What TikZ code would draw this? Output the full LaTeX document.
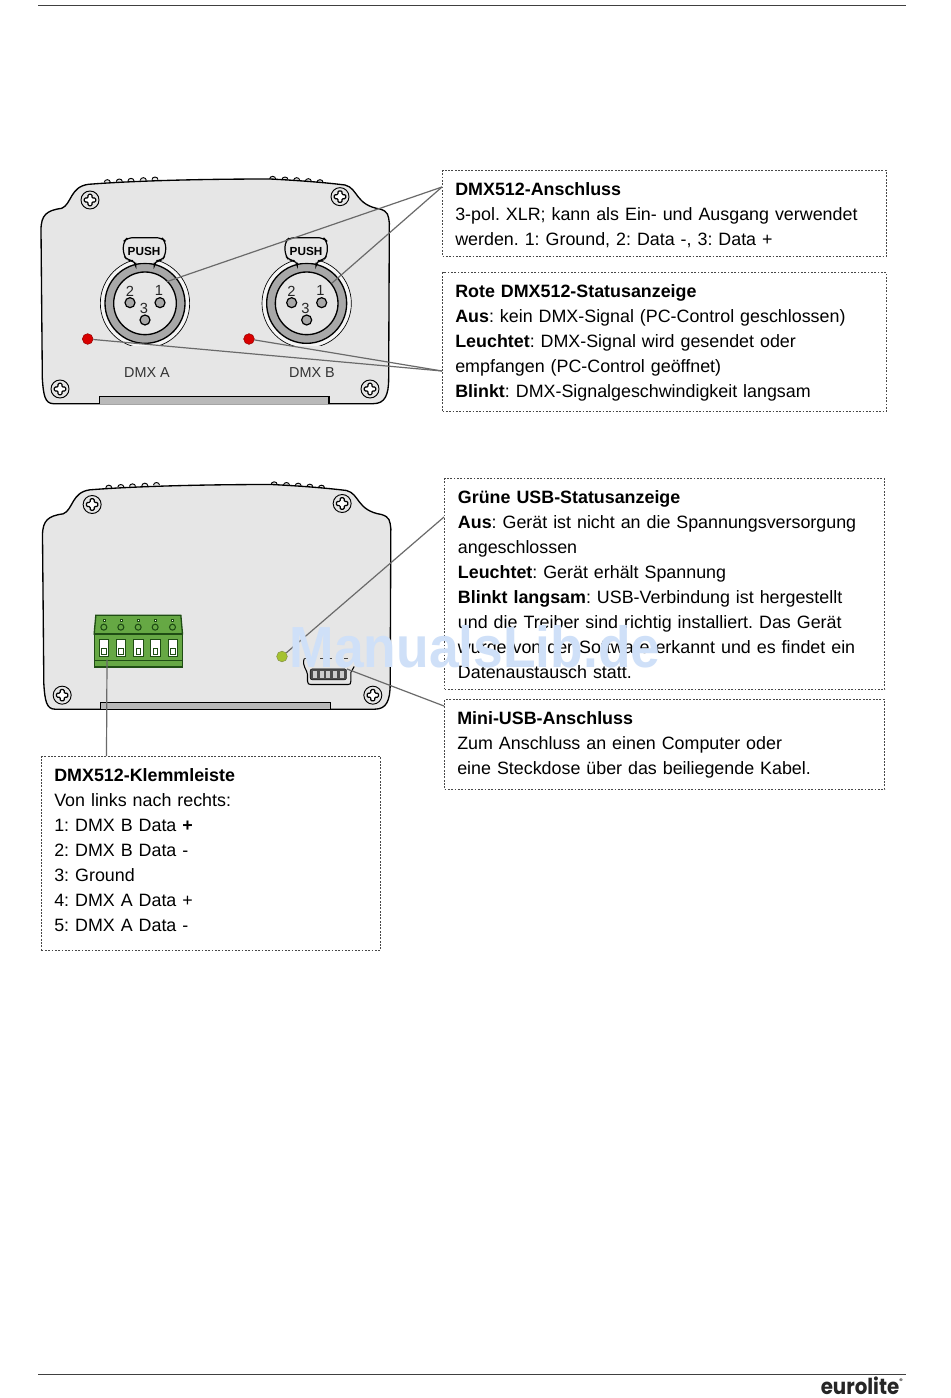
\documentclass[tikz,border=0pt]{standalone}
\usepackage{fontspec}
\setmainfont{Liberation Sans}
\newfontfamily\brandfont{Poppins}
\usepackage{xcolor}
\usetikzlibrary{positioning, calc}
\definecolor{casegray}{HTML}{E6E6E6}
\definecolor{ringgray}{HTML}{A8A8A8}
\definecolor{leadgray}{HTML}{6A6A6A}
\definecolor{termgreen}{HTML}{66A844}
\definecolor{termdark}{HTML}{1F4D14}
\definecolor{markblue}{HTML}{CFE0F8}

\tikzset{
    infobox/.style={draw=black!72, line width=0.95pt, dash pattern=on 1.3pt off 1.2pt, anchor=north west, inner xsep=9.5pt, inner ysep=0pt,
        align=left, font=\fontsize{13.4pt}{18.75pt}\selectfont\frenchspacing, text height=19pt, text depth=#1},
    leader/.style={draw=leadgray, line width=0.9pt},
    caselabel/.style={font=\fontsize{10.8pt}{12pt}\selectfont, text=black!80, inner sep=0pt},
    pinlabel/.style={font=\fontsize{11pt}{12pt}\selectfont, text=black!85, inner sep=0pt},
    pushlabel/.style={font=\fontsize{8.8pt}{10pt}\selectfont\bfseries, inner sep=0pt},
    ledmark/.style={circle, fill=#1, draw=#1!70!black, line width=0.4pt, minimum size=8pt, inner sep=0pt},
    rule/.style={draw=black!75, line width=0.9pt},
}

% housing outline, drawn in units of a third of a pixel
\newcommand{\housing}{%
    \foreach \bx/\by in {232/52, 268/50, 303/48, 340/46, 375/44, 728/42, 765/44, 800/46, 835/49, 870/52}
        \draw[line width=0.7pt, fill=casegray] (\bx-9,\by) arc (180:360:9 and 8);
    \draw[fill=casegray, line width=1pt]
        (33,195) .. controls (33,150) and (50,136) .. (95,130)
        .. controls (125,118) and (120,65) .. (175,58)
        .. controls (300,48) and (500,42) .. (720,42)
        .. controls (800,46) and (880,52) .. (945,60)
        .. controls (985,70) and (975,120) .. (1050,132)
        .. controls (1075,140) and (1075,150) .. (1078,175)
        -- (1076,640) .. controls (1076,690) and (1065,716) .. (1030,716)
        -- (70,716) .. controls (45,716) and (40,690) .. (37,640) -- cycle;
    \draw[fill=ringgray!80, line width=0.8pt] (208,716) -- (208,695) -- (897,695) -- (897,716);
}
\newcommand{\screw}[1]{%
    \draw[fill=casegray, line width=0.7pt] (#1) circle (27);
    \draw[fill=white, line width=0.9pt, rounded corners=0.8pt] ($(#1)+(-6,-17)$) -- ++(12,0) -- ++(0,11) -- ++(11,0) -- ++(0,12) -- ++(-11,0) -- ++(0,11) -- ++(-12,0) -- ++(0,-11) -- ++(-11,0) -- ++(0,-12) -- ++(11,0) -- cycle;
}
% XLR socket
\newcommand{\xlrsocket}[2]{%
    \begin{scope}[shift={(#1,#2)}]
        \begin{scope}
            \clip (-140,-140) rectangle (140,125);
            \draw[line width=0.5pt, fill=white!60!casegray] (0,0) circle (134);
        \end{scope}
        \draw[line width=1pt, fill=ringgray] (0,0) circle (120);
        \draw[line width=1pt, fill=casegray] (0,0) circle (94);
        \draw[line width=0.9pt, fill=casegray, rounded corners=4pt] (-28,-122) -- (-28,-128) -- (-52,-128) -- (-65,-145) -- (-65,-185) -- (-52,-197) -- (50,-197) -- (62,-185) -- (62,-145) -- (50,-128) -- (28,-128) -- (28,-122);
        \foreach \px/\py in {-45/-2, 45/-2, 0/50}
            \draw[line width=0.9pt, fill=ringgray] (\px,\py) circle (15);
    \end{scope}
}

\begin{document}
\begin{tikzpicture}[x=0.75pt, y=-0.75pt]
\useasboundingbox (0,0) rectangle (950,1398);
\fill[white] (0,0) rectangle (950,1398);

% Page rules
\coordinate (topl) at (38,5.5);
\coordinate (topr) at (906,5.5);
\coordinate (botl) at (38,1374.5);
\coordinate (botr) at (906,1374.5);
\draw[rule] (topl) -- (topr);
\draw[rule] (botl) -- (botr);
\node[font=\fontsize{16.5pt}{18pt}\selectfont\brandfont\bfseries, text=black!85, inner sep=0pt, anchor=base east] (brand) at (903,1394.5) {\scalebox{.9}[1]{eurolite}\raisebox{8.5pt}{\fontsize{5pt}{5pt}\selectfont\textregistered}};

% First housing
\begin{scope}[shift={(30,165)}, x=0.25pt, y=-0.25pt]
    \housing
    \screw{180,105}
    \screw{930,95}
    \screw{90,672}
    \screw{1020,672}
    \xlrsocket{345}{415}
    \xlrsocket{830}{415}
\end{scope}
\foreach \sx/\nm in {144/pusha, 306/pushb}
    \node[pushlabel] (\nm) at (\sx,251.2) {PUSH};
\foreach \sx/\nm in {130/a, 291.5/b} {
    \node[pinlabel] (two\nm) at (\sx,291) {2};
    \node[pinlabel] (one\nm) at (\sx+29,290) {1};
    \node[pinlabel] (three\nm) at (\sx+14,308) {3};
}
\node[ledmark=red!85!black] (leda) at (87.7,339) {};
\node[ledmark=red!85!black] (ledb) at (249,339) {};
\node[caselabel] (dmxa) at (147,372.5) {DMX A};
\node[caselabel] (dmxb) at (312,372.5) {DMX B};

% Second housing
\begin{scope}[shift={(31.5,470.5)}, x=0.25pt, y=-0.25pt]
    \housing
    \screw{182,102}
    \screw{932,99}
    \screw{92,674}
    \screw{1024,674}
    % terminal block
    \draw[fill=termgreen, draw=termdark, line width=1pt] (193,434) -- (448,434) -- (453,490) -- (188,490) -- cycle;
    \draw[fill=termgreen, draw=termdark, line width=1pt] (188,490) rectangle (453,589);
    \draw[termdark, line width=0.8pt] (188,570) -- (453,570);
    \foreach \tx in {217,268,320,371,423} {
        \draw[fill=white, draw=termdark, line width=0.4pt] (\tx-3,445) rectangle (\tx+3,451);
        \draw[draw=termdark, line width=0.8pt] (\tx,470) circle (9);
        \draw[fill=white, draw=termdark, line width=0.5pt] (\tx-14,505) rectangle (\tx+14,558);
        \draw[fill=white, draw=termdark, line width=0.5pt] (\tx-7,532) rectangle (\tx+7,551);
    }
    % usb socket
    \draw[line width=0.8pt, fill=casegray] (818,565) .. controls (810,585) and (828,600) .. (828,612) -- (828,632) .. controls (828,640) and (832,642) .. (838,642) -- (950,642) .. controls (956,642) and (958,640) .. (958,632) -- (958,606) -- (968,588);
    \draw[line width=0.8pt, dashed, casegray!30!black] (818,565) -- (968,565);
    \draw[fill=black!70, line width=0.3pt, rounded corners=1.5pt] (836,595) rectangle (945,628);
    \foreach \ux in {849,870,890,910,931}
        \fill[white!80!black] (\ux-6,602) rectangle (\ux+6,622);
\end{scope}
\node[ledmark=yellow!70!green!85!black] (usbled) at (282,656.5) {};

% Boxes
\node[infobox=45.4pt, text width=314pt] (xlrbox) at (442,170) {\textbf{DMX512-Anschluss}\\3-pol. XLR; kann als Ein- und Ausgang verwendet\\werden. 1: Ground, 2: Data -, 3: Data +};
\node[infobox=85.1pt, text width=314pt] (redbox) at (442,272) {\textbf{Rote DMX512-Statusanzeige}\\\textbf{Aus}: kein DMX-Signal (PC-Control geschlossen)\\\textbf{Leuchtet}: DMX-Signal wird gesendet oder\\empfangen (PC-Control geöffnet)\\\textbf{Blinkt}: DMX-Signalgeschwindigkeit langsam};
\node[infobox=139pt, text width=310pt, inner xsep=10pt] (usbbox) at (444,478) {\textbf{Grüne USB-Statusanzeige}\\\textbf{Aus}: Gerät ist nicht an die Spannungsversorgung\\angeschlossen\\\textbf{Leuchtet}: Gerät erhält Spannung\\\textbf{Blinkt langsam}: USB-Verbindung ist hergestellt\\und die Treiber sind richtig installiert. Das Gerät\\wurde von der Software erkannt und es findet ein\\Datenaustausch statt.};
\node[infobox=48.4pt, text width=311pt] (minibox) at (444,699) {\textbf{Mini-USB-Anschluss}\\Zum Anschluss an einen Computer oder\\eine Steckdose über das beiliegende Kabel.};
\node[infobox=126.4pt, text width=235pt] (termbox) at (41,756) {\textbf{DMX512-Klemmleiste}\\Von links nach rechts:\\1: DMX B Data \textbf{+}\\2: DMX B Data -\\3: Ground\\4: DMX A Data +\\5: DMX A Data -};

% Leader lines
\coordinate (xlrtap) at (442,187);
\coordinate (redtap) at (442,371);
\coordinate (usbtap) at (444,517);
\coordinate (minitap) at (444,706);
\coordinate (termtap) at (106.5,756);
\coordinate (pina) at (166.7,281.7);
\coordinate (pinb) at (331.7,283.3);
\coordinate (minipin) at (347,669);
\coordinate (termpin) at (107,659.5);
\draw[leader] (xlrtap) -- (pina);
\draw[leader] (xlrtap) -- (pinb);
\draw[leader] (redtap) -- (leda);
\draw[leader] (redtap) -- (ledb);
\draw[leader] (usbtap) -- (usbled);
\draw[leader] (minitap) -- (minipin);
\draw[leader] (termtap) -- (termpin);

% Watermark
\node[font=\fontsize{43.5pt}{44pt}\selectfont\bfseries, text=markblue, inner sep=0pt, anchor=base] (mark) at (475,667) {\scalebox{.92}[1]{ManualsLib.de}};
\end{tikzpicture}
\end{document}
